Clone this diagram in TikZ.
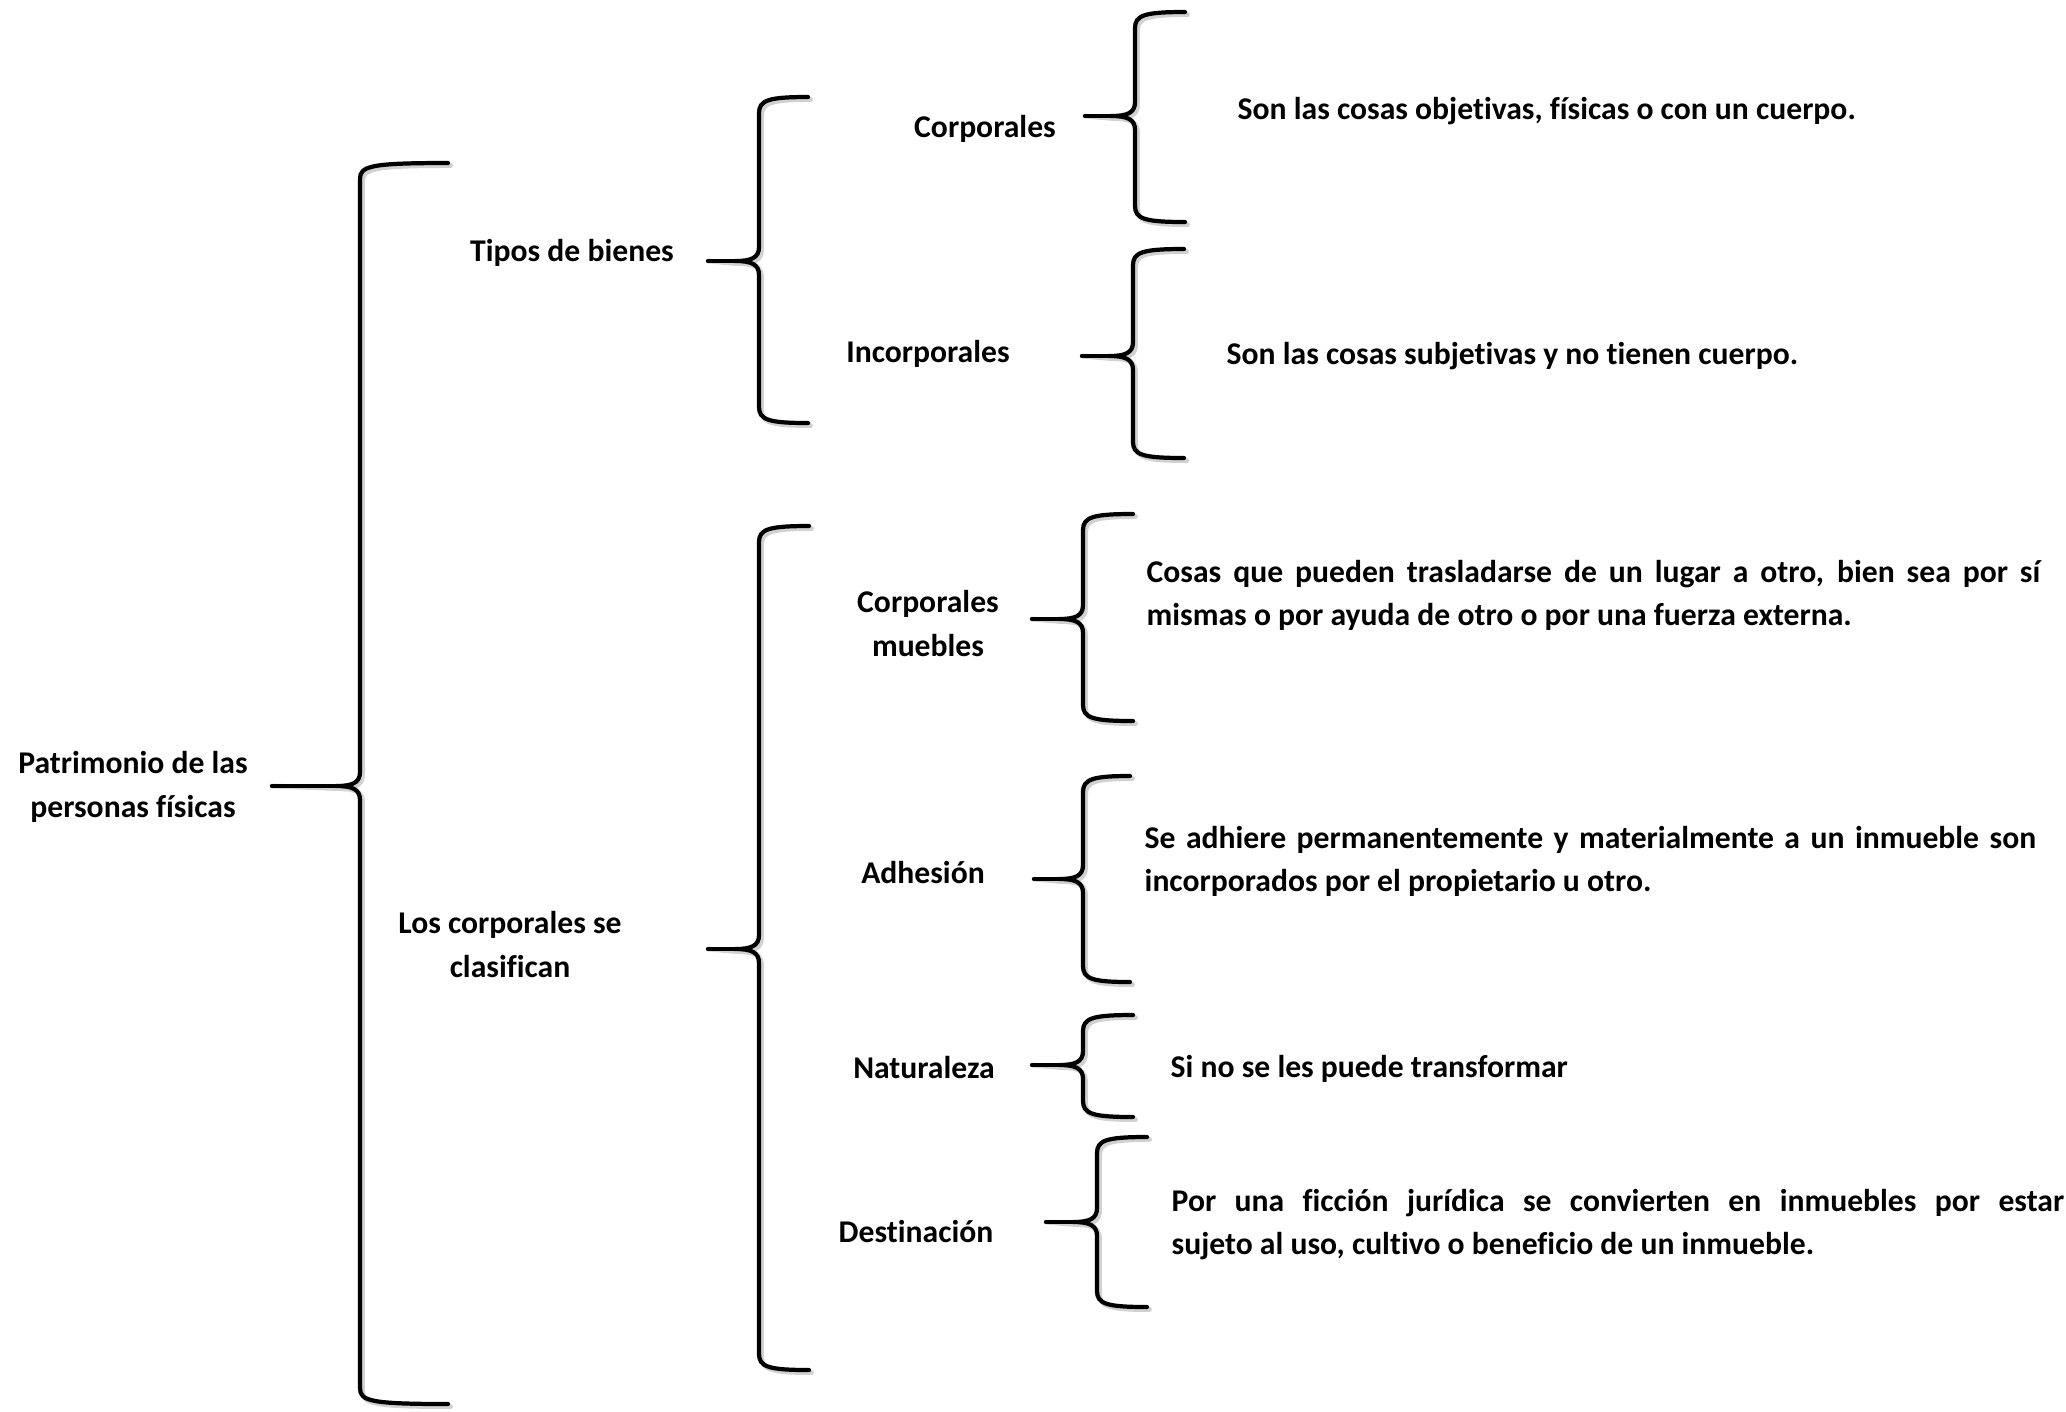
\documentclass[tikz,border=0pt]{standalone}
\usepackage{fontspec}
\setmainfont{Carlito}[Ligatures=NoCommon]
\newcommand\mybrace[7]{% name, tipx, tipy, spinex, endx, topy, boty
  \coordinate (#1) at (#2,#3);
  \draw[bshadow,shift={(2.5,2.5)}] (#5,#6) .. controls (#4+10,#6) and (#4,#6+3) .. (#4,#6+16)
     -- (#4,#3-14) .. controls (#4,#3-3) and (#4-8,#3) .. (#4-24,#3)
     .. controls (#4-8,#3) and (#4,#3+3) .. (#4,#3+14)
     -- (#4,#7-16) .. controls (#4,#7-3) and (#4+10,#7) .. (#5,#7);
  \draw[bshadow,shift={(2.5,2.5)}] (#4-24,#3) -- (#1);
  \draw[bracestyle] (#5,#6) .. controls (#4+10,#6) and (#4,#6+3) .. (#4,#6+16)
     -- (#4,#3-14) .. controls (#4,#3-3) and (#4-8,#3) .. (#4-24,#3)
     .. controls (#4-8,#3) and (#4,#3+3) .. (#4,#3+14)
     -- (#4,#7-16) .. controls (#4,#7-3) and (#4+10,#7) .. (#5,#7);
  \draw[bracestyle] (#4-24,#3) -- (#1);
}
\begin{document}
\begin{tikzpicture}[x=0.01cm,y=-0.01cm,
  bracestyle/.style={line width=1.2pt,line cap=round,line join=round,black},
  bshadow/.style={line width=1.4pt,line cap=round,line join=round,black!18},
  lbl/.style={font=\bfseries\fontsize{9}{12.5}\selectfont,inner sep=0pt,anchor=base,align=center},
  desc/.style={font=\bfseries\fontsize{9}{12.5}\selectfont,inner sep=0pt,anchor=base west},
  para/.style={desc,text width=#1,align=justify}]
\useasboundingbox (0,0) rectangle (2066,1411);

% labels (multi-line: base = last line)
\node[lbl] (pat) at (133,817) {Patrimonio de las\\personas físicas};
\node[lbl] (tip) at (572,261) {Tipos de bienes};
\node[lbl] (cla) at (510,977) {Los corporales se\\clasifican};
\node[lbl] (cor) at (985,137) {Corporales};
\node[lbl] (inc) at (928,362) {Incorporales};
\node[lbl] (cmu) at (928,656) {Corporales\\muebles};
\node[lbl] (adh) at (923,883) {Adhesión};
\node[lbl] (nat) at (924,1078) {Naturaleza};
\node[lbl] (des) at (916,1242) {Destinación};

% descriptions
\node[desc] (dcor) at (1237,119) {Son las cosas objetivas, físicas o con un cuerpo.};
\node[desc] (dinc) at (1226,364) {Son las cosas subjetivas y no tienen cuerpo.};
\node[para=8.93cm] (dcmu) at (1146,582) {Cosas que pueden trasladarse de un lugar a otro, bien sea por sí\linebreak mismas o por ayuda de otro o por una fuerza externa.};
\node[para=8.91cm] (dadh) at (1144,848) {Se adhiere permanentemente y materialmente a un inmueble son\linebreak incorporados por el propietario u otro.};
\node[desc] (dnat) at (1170,1077) {Si no se les puede transformar};
\node[para=8.92cm] (ddes) at (1171,1211) {Por una ficción jurídica se convierten en inmuebles por estar\linebreak sujeto al uso, cultivo o beneficio de un inmueble.};

% braces
\mybrace{bpat}{272}{786}{360}{448}{163}{1404}
\mybrace{btip}{708}{261}{759}{808}{97}{423}
\mybrace{bcla}{708}{949}{759}{809}{526}{1370}
\mybrace{bcor}{1085}{116}{1135}{1185}{12}{222}
\mybrace{binc}{1082}{356}{1133}{1184}{249}{458}
\mybrace{bcmu}{1032}{619}{1083}{1133}{514}{721}
\mybrace{badh}{1034}{879}{1083}{1130}{776}{982}
\mybrace{bnat}{1032}{1065}{1083}{1133}{1015}{1117}
\mybrace{bdes}{1046}{1222}{1097}{1147}{1137}{1307}
\end{tikzpicture}
\end{document}
